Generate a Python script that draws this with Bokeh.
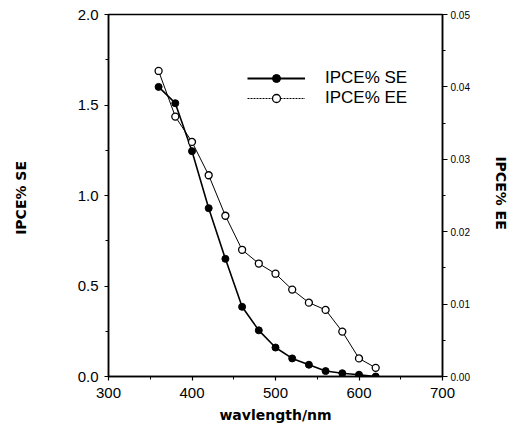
from bokeh.plotting import figure
from bokeh.models import Range1d, LinearAxis, Legend, LegendItem, PrintfTickFormatter, FixedTicker
from bokeh.embed import file_html
from bokeh.resources import INLINE

wavelength = [360, 380, 400, 420, 440, 460, 480, 500, 520, 540, 560, 580, 600, 620]
ipce_se = [1.60, 1.51, 1.245, 0.93, 0.65, 0.385, 0.255, 0.16, 0.10, 0.065, 0.03, 0.018, 0.01, 0.0]
ipce_ee = [0.0422, 0.0359, 0.0324, 0.0278, 0.0222, 0.0175, 0.0156, 0.0142, 0.0120, 0.0102,
           0.0092, 0.0062, 0.0025, 0.0012]
x_ticks = [300, 400, 500, 600, 700]
se_ticks = [0.0, 0.5, 1.0, 1.5, 2.0]
ee_ticks = [0.00, 0.01, 0.02, 0.03, 0.04, 0.05]

TICK_FONT = "Liberation Sans"
LABEL_FONT = "DejaVu Sans"

p = figure(width=514, height=427, output_backend="svg", toolbar_location=None,
           x_range=Range1d(300, 700), y_range=Range1d(0, 2.0),
           min_border_left=108, min_border_right=72, min_border_top=14, min_border_bottom=51)
p.extra_y_ranges = {"ee": Range1d(0, 0.05)}
p.xgrid.visible = False
p.ygrid.visible = False
p.outline_line_color = "black"
p.outline_line_width = 1.5
p.background_fill_color = "white"
p.border_fill_color = "white"

def style_axis(ax, font_size, tick_out=4):
    ax.axis_line_width = 1.5
    ax.axis_line_color = "black"
    ax.major_tick_line_color = "black"
    ax.minor_tick_line_color = "black"
    ax.major_tick_line_width = 1.2
    ax.major_tick_out = tick_out
    ax.major_tick_in = 0
    ax.minor_tick_out = 3
    ax.minor_tick_in = 0
    ax.major_label_text_font = TICK_FONT
    ax.major_label_text_font_size = font_size
    ax.major_label_text_color = "black"
    ax.axis_label_text_font = LABEL_FONT
    ax.axis_label_text_font_style = "bold"
    ax.axis_label_text_font_size = "14px"
    ax.axis_label_text_color = "black"

xa = p.xaxis[0]
style_axis(xa, "15px")
xa.ticker = FixedTicker(ticks=x_ticks, minor_ticks=list(range(300, 701, 50)))
xa.axis_label = "wavlength/nm"
xa.major_label_standoff = 7
xa.axis_label_standoff = 6

ya = p.yaxis[0]
style_axis(ya, "15px")
ya.ticker = FixedTicker(ticks=se_ticks, minor_ticks=[i * 0.25 for i in range(9)])
ya.formatter = PrintfTickFormatter(format="%.1f")
ya.axis_label = "IPCE%  SE"
ya.major_label_standoff = 6
ya.axis_label_standoff = 46

ra = LinearAxis(y_range_name="ee")
style_axis(ra, "10px", tick_out=5)
ra.ticker = FixedTicker(ticks=ee_ticks, minor_ticks=[i * 0.005 for i in range(11)])
ra.formatter = PrintfTickFormatter(format="%.2f")
ra.axis_label = "IPCE%  EE"
ra.major_label_standoff = 3
ra.axis_label_standoff = 20
p.add_layout(ra, "right")

# data
se_line = p.line(wavelength, ipce_se, line_color="black", line_width=1.6)
se_pts = p.scatter(wavelength, ipce_se, marker="circle", size=7, fill_color="black", line_color="black")
ee_line = p.line(wavelength, ipce_ee, line_color="black", line_width=1.0, y_range_name="ee")
ee_pts = p.scatter(wavelength, ipce_ee, marker="circle", size=7, fill_color="white",
                   line_color="black", line_width=1.3, y_range_name="ee")

# legend-only line samples (a single NaN point, nothing drawn in the plot)
nan = float("nan")
leg_se_line = p.line([nan], [nan], line_color="black", line_width=2.2)
leg_ee_line = p.line([nan], [nan], line_color="black", line_width=1.2, line_dash="2 1")

legend = Legend(items=[
    LegendItem(label="IPCE% SE", renderers=[leg_se_line, se_pts]),
    LegendItem(label="IPCE% EE", renderers=[leg_ee_line, ee_pts]),
], location=(139, 268))
legend.glyph_width = 58
legend.glyph_height = 20
legend.label_standoff = 20
legend.label_text_font = TICK_FONT
legend.label_text_font_size = "17px"
legend.label_text_color = "black"
legend.label_height = 20
legend.spacing = 0
legend.padding = 0
legend.margin = 0
legend.border_line_color = None
legend.background_fill_alpha = 0
p.add_layout(legend)

open("out.html", "w").write(file_html(p, INLINE))
